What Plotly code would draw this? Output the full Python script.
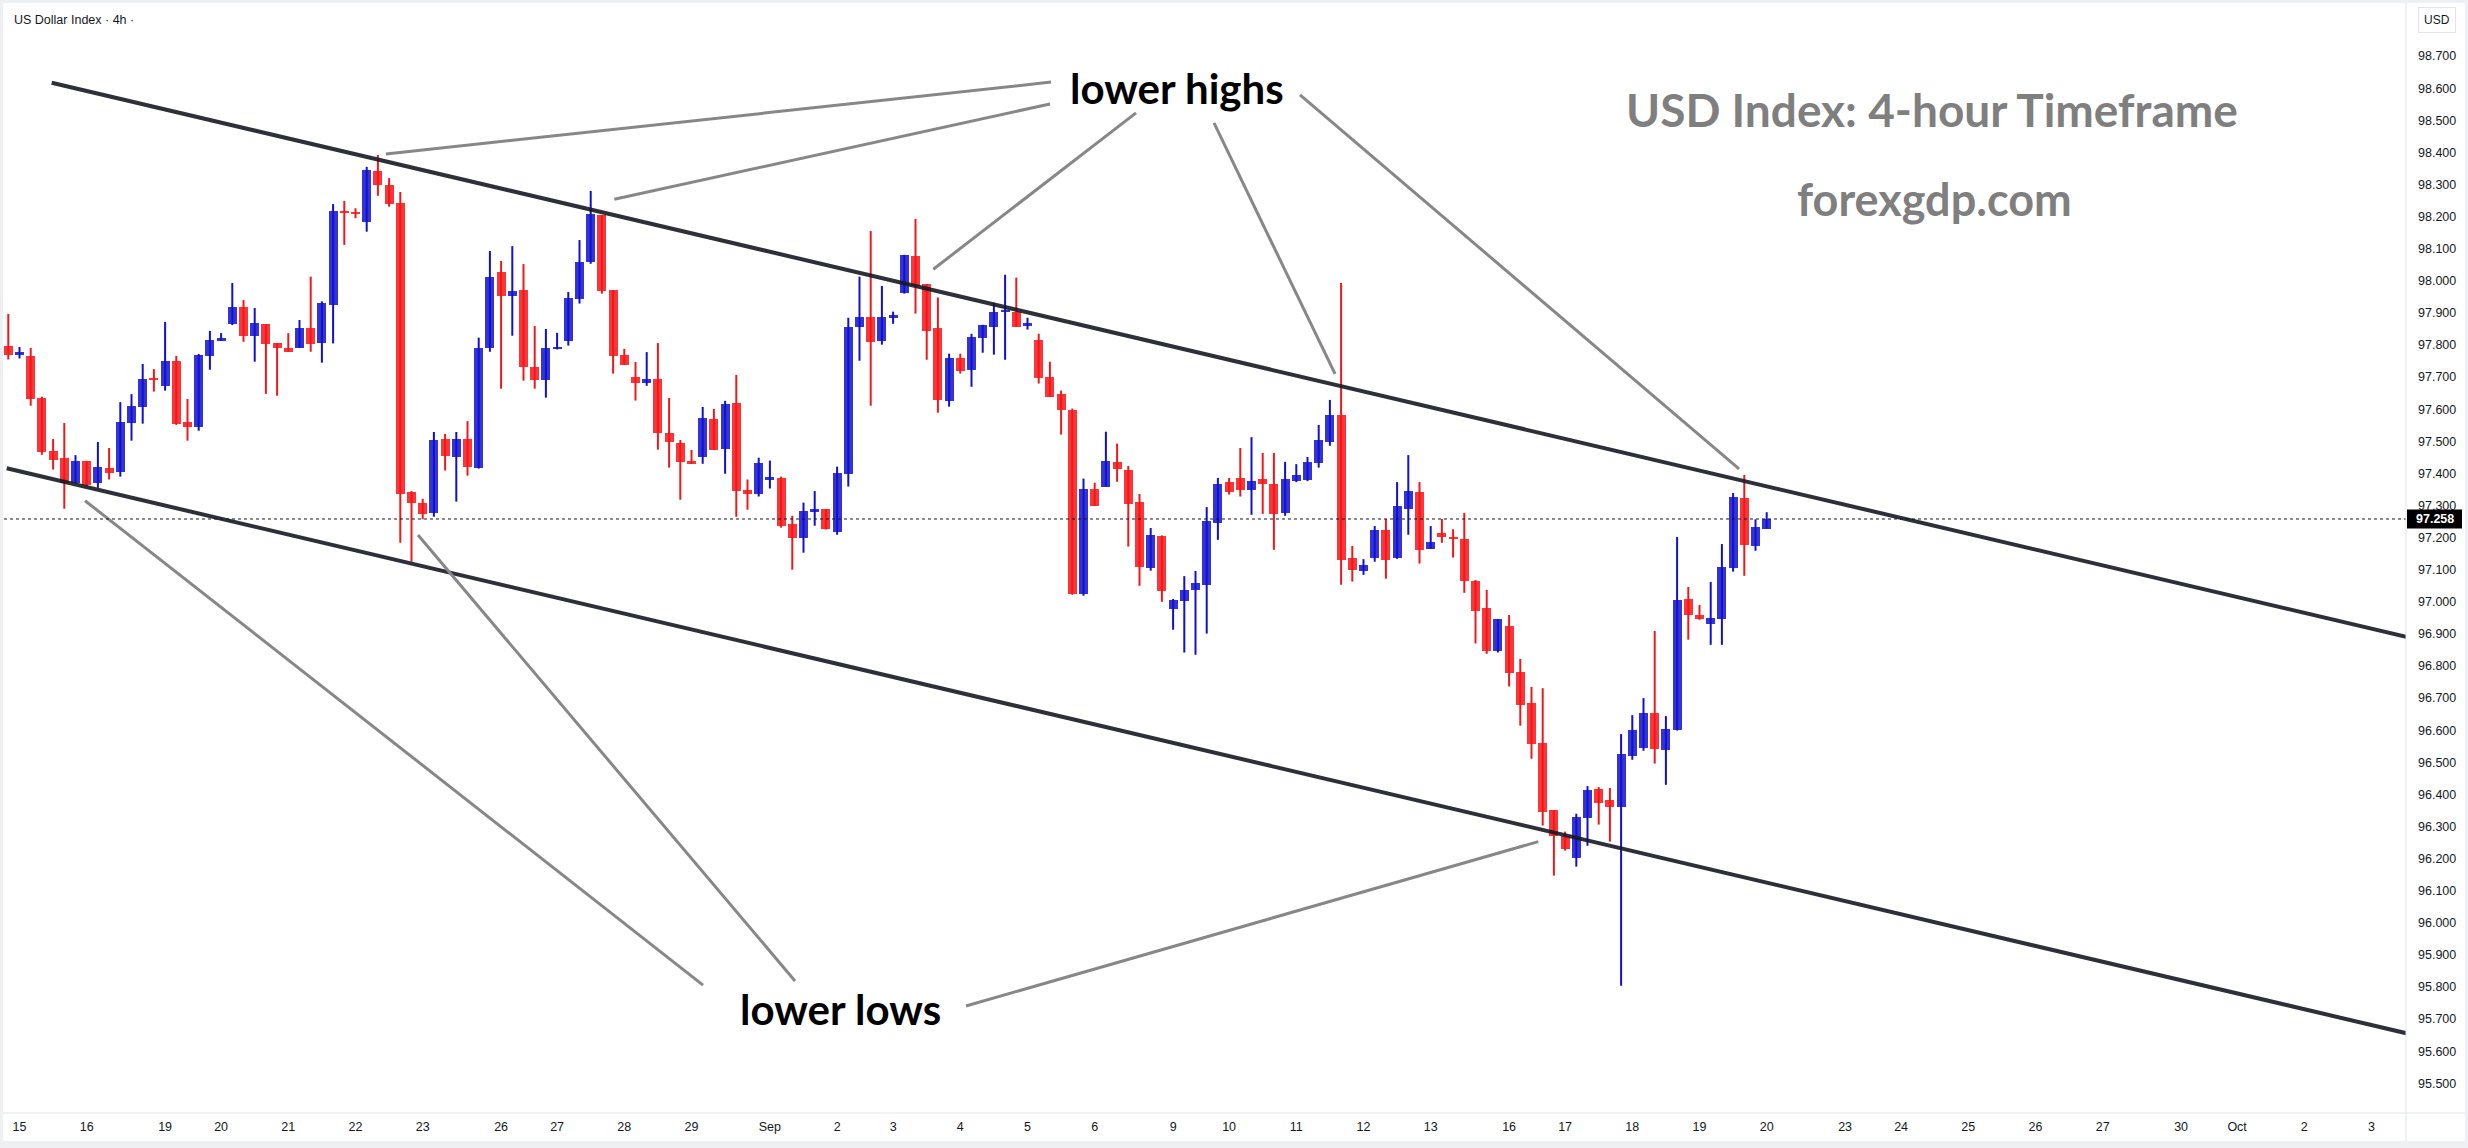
import plotly.graph_objects as go

# ---------------- data ----------------
opens = [97.797, 97.770, 97.766, 97.636, 97.470, 97.448, 97.371, 97.439, 97.371, 97.416,
         97.405, 97.558, 97.608, 97.695, 97.673, 97.750, 97.560, 97.546, 97.767, 97.814,
         97.867, 97.918, 97.829, 97.865, 97.806, 97.792, 97.792, 97.853, 97.805, 97.926,
         98.217, 98.214, 98.184, 98.342, 98.299, 98.242, 97.342, 97.308, 97.278, 97.507,
         97.452, 97.507, 97.418, 97.791, 98.027, 97.954, 97.971, 97.732, 97.692, 97.790,
         97.814, 97.944, 98.060, 98.205, 97.971, 97.769, 97.700, 97.683, 97.694, 97.527,
         97.495, 97.439, 97.452, 97.570, 97.477, 97.619, 97.349, 97.337, 97.378, 97.387,
         97.243, 97.200, 97.281, 97.289, 97.216, 97.399, 97.857, 97.888, 97.814, 97.885,
         97.963, 98.078, 97.990, 97.854, 97.627, 97.761, 97.723, 97.823, 97.857, 97.904,
         97.904, 97.860, 97.817, 97.701, 97.648, 97.599, 97.025, 97.352, 97.359, 97.437,
         97.411, 97.311, 97.106, 97.205, 96.979, 97.004, 97.038, 97.053, 97.247, 97.373,
         97.386, 97.349, 97.383, 97.367, 97.278, 97.376, 97.379, 97.433, 97.499, 97.582,
         97.136, 97.097, 97.137, 97.224, 97.137, 97.290, 97.342, 97.165, 97.214, 97.201,
         97.196, 97.065, 96.981, 96.848, 96.925, 96.781, 96.685, 96.560, 96.351, 96.271,
         96.203, 96.328, 96.417, 96.383, 96.362, 96.521, 96.546, 96.654, 96.539, 96.602,
         97.009, 96.959, 96.932, 96.947, 97.106, 97.323, 97.175, 97.228]
highs = [97.897, 97.794, 97.791, 97.639, 97.507, 97.557, 97.457, 97.439, 97.498, 97.479,
         97.622, 97.647, 97.741, 97.725, 97.872, 97.766, 97.632, 97.772, 97.844, 97.837,
         97.993, 97.940, 97.915, 97.865, 97.806, 97.837, 97.878, 98.013, 97.936, 98.239,
         98.249, 98.226, 98.355, 98.392, 98.320, 98.277, 97.345, 97.321, 97.529, 97.523,
         97.529, 97.563, 97.823, 98.093, 98.062, 98.108, 98.052, 97.859, 97.850, 97.838,
         97.965, 98.127, 98.280, 98.205, 97.971, 97.788, 97.747, 97.778, 97.806, 97.635,
         97.504, 97.473, 97.607, 97.601, 97.626, 97.707, 97.381, 97.449, 97.440, 97.390,
         97.268, 97.309, 97.345, 97.289, 97.421, 97.885, 98.013, 98.155, 97.984, 97.904,
         98.081, 98.193, 97.990, 97.948, 97.773, 97.773, 97.835, 97.863, 97.932, 98.019,
         98.010, 97.885, 97.835, 97.748, 97.658, 97.602, 97.384, 97.371, 97.530, 97.493,
         97.423, 97.336, 97.230, 97.207, 97.009, 97.080, 97.096, 97.295, 97.386, 97.386,
         97.479, 97.513, 97.464, 97.464, 97.436, 97.429, 97.451, 97.551, 97.629, 97.993,
         97.174, 97.133, 97.236, 97.258, 97.373, 97.457, 97.373, 97.236, 97.258, 97.226,
         97.277, 97.068, 97.037, 96.946, 96.959, 96.822, 96.735, 96.731, 96.351, 96.284,
         96.340, 96.426, 96.423, 96.420, 96.588, 96.647, 96.700, 96.909, 96.644, 97.202,
         97.046, 96.990, 97.062, 97.180, 97.339, 97.395, 97.257, 97.279]
lows = [97.755, 97.758, 97.611, 97.458, 97.412, 97.290, 97.369, 97.359, 97.355, 97.381,
        97.390, 97.502, 97.555, 97.655, 97.658, 97.551, 97.502, 97.533, 97.723, 97.814,
        97.862, 97.810, 97.748, 97.648, 97.642, 97.779, 97.792, 97.779, 97.745, 97.805,
        98.112, 98.195, 98.153, 98.265, 98.231, 97.184, 97.125, 97.257, 97.265, 97.409,
        97.312, 97.393, 97.415, 97.779, 97.664, 97.829, 97.689, 97.664, 97.636, 97.786,
        97.798, 97.929, 98.053, 97.960, 97.711, 97.739, 97.627, 97.673, 97.474, 97.418,
        97.318, 97.430, 97.430, 97.474, 97.399, 97.265, 97.287, 97.328, 97.353, 97.231,
        97.100, 97.153, 97.237, 97.225, 97.209, 97.359, 97.751, 97.611, 97.801, 97.866,
        97.960, 97.898, 97.754, 97.589, 97.608, 97.711, 97.670, 97.776, 97.770, 97.754,
        97.857, 97.848, 97.680, 97.639, 97.521, 97.022, 97.019, 97.299, 97.359, 97.374,
        97.172, 97.050, 97.097, 97.000, 96.913, 96.842, 96.835, 96.901, 97.193, 97.334,
        97.328, 97.271, 97.274, 97.162, 97.268, 97.373, 97.376, 97.418, 97.486, 97.053,
        97.063, 97.084, 97.125, 97.072, 97.134, 97.209, 97.119, 97.165, 97.184, 97.138,
        97.028, 96.870, 96.838, 96.842, 96.736, 96.614, 96.511, 96.303, 96.147, 96.225,
        96.175, 96.240, 96.306, 96.253, 95.804, 96.508, 96.536, 96.496, 96.430, 96.599,
        96.882, 96.944, 96.866, 96.866, 97.094, 97.081, 97.159, 97.228]
closes = [97.770, 97.778, 97.633, 97.468, 97.443, 97.371, 97.439, 97.364, 97.420, 97.402,
          97.560, 97.610, 97.694, 97.692, 97.750, 97.555, 97.546, 97.769, 97.816, 97.822,
          97.918, 97.829, 97.869, 97.804, 97.792, 97.779, 97.853, 97.804, 97.932, 98.217,
          98.213, 98.211, 98.345, 98.300, 98.240, 97.337, 97.309, 97.275, 97.504, 97.455,
          97.507, 97.421, 97.791, 98.012, 97.954, 97.968, 97.733, 97.692, 97.791, 97.794,
          97.946, 98.059, 98.208, 97.969, 97.767, 97.739, 97.683, 97.694, 97.527, 97.499,
          97.437, 97.430, 97.573, 97.474, 97.616, 97.346, 97.337, 97.432, 97.390, 97.237,
          97.200, 97.283, 97.289, 97.228, 97.402, 97.857, 97.888, 97.810, 97.888, 97.893,
          98.081, 97.985, 97.845, 97.630, 97.758, 97.720, 97.826, 97.863, 97.904, 97.907,
          97.857, 97.870, 97.698, 97.639, 97.596, 97.025, 97.352, 97.299, 97.440, 97.415,
          97.306, 97.109, 97.207, 97.035, 97.006, 97.037, 97.059, 97.252, 97.367, 97.343,
          97.349, 97.376, 97.368, 97.274, 97.383, 97.395, 97.436, 97.504, 97.582, 97.131,
          97.100, 97.115, 97.224, 97.131, 97.298, 97.345, 97.162, 97.186, 97.203, 97.197,
          97.066, 96.972, 96.848, 96.946, 96.779, 96.680, 96.558, 96.346, 96.271, 96.231,
          96.330, 96.414, 96.374, 96.362, 96.526, 96.601, 96.654, 96.543, 96.604, 97.006,
          96.960, 96.947, 96.950, 97.108, 97.327, 97.178, 97.232, 97.258]

last_price = 97.258

x_tick_pos = [1, 7, 14, 19, 25, 31, 37, 44, 49, 55, 61, 68, 74, 79, 85, 91, 97,
              104, 109, 115, 121, 127, 134, 139, 145, 151, 157, 164, 169, 175, 181,
              187, 194, 199, 205, 211]
x_tick_text = ['15', '16', '19', '20', '21', '22', '23', '26', '27', '28', '29', 'Sep',
               '2', '3', '4', '5', '6', '9', '10', '11', '12', '13', '16', '17', '18',
               '19', '20', '23', '24', '25', '26', '27', '30', 'Oct', '2', '3']
y_tick_vals = [95.5, 95.6, 95.7, 95.8, 95.9, 96.0, 96.1, 96.2, 96.3, 96.4, 96.5,
               96.6, 96.7, 96.8, 96.9, 97.0, 97.1, 97.2, 97.3, 97.4, 97.5, 97.6,
               97.7, 97.8, 97.9, 98.0, 98.1, 98.2, 98.3, 98.4, 98.5, 98.6, 98.7]

# channel lines (bar index, price)
upper_x = [3.875, 214.1]
upper_y = [98.617, 96.891]
lower_x = [-0.14, 214.1]
lower_y = [97.416, 95.656]

# pointer lines for the labels (bar index, price)
pointer_x = [[33.72, 93.10], [54.11, 93.01], [82.59, 100.69], [118.46, 107.65],
             [154.53, 115.33], [6.85, 62.03], [36.58, 70.24], [136.61, 85.51]]
pointer_y = [[98.395, 98.619], [98.254, 98.551], [98.036, 98.523], [97.710, 98.492],
             [97.414, 98.579], [97.315, 95.806], [97.208, 95.819], [96.253, 95.741]]

# ---------------- geometry ----------------
W, H = 2468, 1148
ML, MR, MT, MB = 4, 62, 4, 35
PW = W - ML - MR
PH = H - MT - MB

def px_x(px):
    return (px - ML) / PW

def px_y(py):
    return (H - MB - py) / PH

RED_BODY = '#fb3538'
RED_WICK = '#f01818'
BLUE_BODY = '#3433d6'
BLUE_WICK = '#1010d0'

n = len(opens)
idx = list(range(n))

fig = go.Figure()

for up, wick_col, body_col in [(False, RED_WICK, RED_BODY), (True, BLUE_WICK, BLUE_BODY)]:
    sel = [i for i in idx if (closes[i] >= opens[i]) == up]
    wx, wy = [], []
    for i in sel:
        wx += [i, i, None]
        wy += [lows[i], highs[i], None]
    fig.add_trace(go.Scatter(x=wx, y=wy, mode='lines',
                             line=dict(color=wick_col, width=2),
                             hoverinfo='skip', showlegend=False))

for up, body_col in [(False, RED_BODY), (True, BLUE_BODY)]:
    sel = [i for i in idx if (closes[i] >= opens[i]) == up]
    base = [min(opens[i], closes[i]) for i in sel]
    hgt = [max(abs(closes[i] - opens[i]), 0.004) for i in sel]
    fig.add_trace(go.Bar(x=sel, y=hgt, base=base, width=0.8,
                         marker=dict(color=body_col, line=dict(width=0)),
                         hoverinfo='skip', showlegend=False))

# channel lines
for lx, ly in [(upper_x, upper_y), (lower_x, lower_y)]:
    fig.add_trace(go.Scatter(x=lx, y=ly, mode='lines',
                             line=dict(color='rgba(22,25,36,0.9)', width=4),
                             hoverinfo='skip', showlegend=False))

# pointer lines
for lx, ly in zip(pointer_x, pointer_y):
    fig.add_trace(go.Scatter(x=lx, y=ly, mode='lines',
                             line=dict(color='#878787', width=3),
                             hoverinfo='skip', showlegend=False))

shapes = []
# last price dotted line
shapes.append(dict(type='line', xref='paper', yref='y', x0=0, x1=1,
                   y0=last_price, y1=last_price,
                   line=dict(color='#131722', width=1, dash='dot'), layer='above'))
# separators
shapes.append(dict(type='line', xref='paper', yref='paper', x0=1, x1=1,
                   y0=px_y(1141), y1=px_y(0), line=dict(color='#e0e3eb', width=1)))
shapes.append(dict(type='line', xref='paper', yref='paper', x0=px_x(0), x1=px_x(W),
                   y0=0, y1=0, line=dict(color='#e0e3eb', width=1)))
# outer light frame
frame = '#eef0f4'
for (x0, y0, x1, y1) in [(0, 0, W, 3), (0, 0, 3, H), (W - 3, 0, W, H), (0, 1141, W, H)]:
    shapes.append(dict(type='rect', xref='paper', yref='paper',
                       x0=px_x(x0), x1=px_x(x1), y0=px_y(y1), y1=px_y(y0),
                       fillcolor=frame, line=dict(width=0), layer='above'))
# last price box
shapes.append(dict(type='rect', xref='paper', yref='y', x0=px_x(2407), x1=px_x(2462),
                   y0=last_price - 0.0296, y1=last_price + 0.0296,
                   fillcolor='#000000', line=dict(width=0), layer='above'))

annotations = [
    dict(text='US Dollar Index · 4h ·', xref='paper', yref='paper', x=px_x(12), y=px_y(19.5),
         xanchor='left', yanchor='middle', showarrow=False,
         font=dict(family='Liberation Sans', size=12.5, color='#131722')),
    dict(text='USD', xref='paper', yref='paper', x=px_x(2437), y=px_y(19.5),
         xanchor='center', yanchor='middle', showarrow=False,
         bordercolor='#e0e3eb', borderwidth=1, borderpad=5, bgcolor='white',
         font=dict(family='Liberation Sans', size=12, color='#131722')),
    dict(text='97.258', xref='paper', yref='y', x=px_x(2434.5), y=last_price,
         xanchor='center', yanchor='middle', showarrow=False,
         font=dict(family='Liberation Sans', size=12.5, color='white', weight='bold')),
    dict(text='lower highs', xref='x', yref='y', x=104.35, y=98.60,
         xanchor='center', yanchor='middle', showarrow=False,
         font=dict(family='Lato', size=42, color='#000000', weight='bold')),
    dict(text='lower lows', xref='x', yref='y', x=74.26, y=95.73,
         xanchor='center', yanchor='middle', showarrow=False,
         font=dict(family='Lato', size=42, color='#000000', weight='bold')),
    dict(text='USD Index: 4-hour Timeframe', xref='x', yref='y', x=171.8, y=98.535,
         xanchor='center', yanchor='middle', showarrow=False,
         font=dict(family='Lato', size=46, color='#7f7f7f', weight='bold')),
    dict(text='forexgdp.com', xref='x', yref='y', x=172.0, y=98.255,
         xanchor='center', yanchor='middle', showarrow=False,
         font=dict(family='Lato', size=45, color='#7f7f7f', weight='bold')),
]

x_left = (ML - 8.3) / 11.2
x_right = (W - MR - 8.3) / 11.2
y_top = 98.8748 - MT / 321.0
y_bot = 98.8748 - (H - MB) / 321.0

fig.update_layout(
    width=W, height=H, autosize=False,
    margin=dict(l=ML, r=MR, t=MT, b=MB, pad=0),
    paper_bgcolor='white', plot_bgcolor='white',
    barmode='overlay', bargap=0, showlegend=False,
    shapes=shapes, annotations=annotations,
    xaxis=dict(range=[x_left, x_right], tickmode='array', tickvals=x_tick_pos,
               ticktext=x_tick_text, showgrid=False, zeroline=False, showline=False,
               ticks='', ticklabelstandoff=4,
               tickfont=dict(family='Liberation Sans', size=12.5, color='#131722')),
    yaxis=dict(range=[y_bot, y_top], side='right', tickmode='array', tickvals=y_tick_vals,
               tickformat='.3f', showgrid=False, zeroline=False, showline=False,
               ticks='', ticklabelstandoff=11,
               tickfont=dict(family='Liberation Sans', size=12.5, color='#131722')),
)

fig.write_html('out.html', config={'displayModeBar': False})
